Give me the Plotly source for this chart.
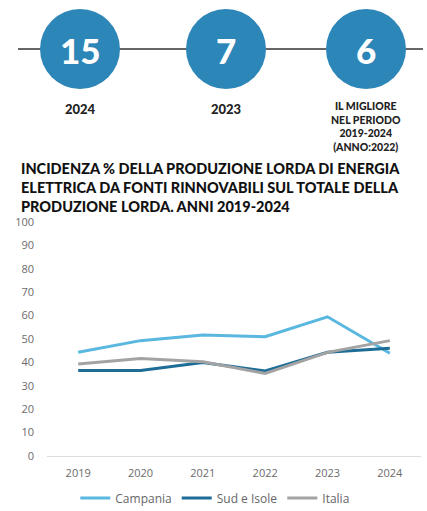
import plotly.graph_objects as go

W, H = 427, 511

anni = ["2019", "2020", "2021", "2022", "2023", "2024"]
campania = [44.3, 49.3, 51.7, 51.0, 59.5, 43.9]
sud_isole = [36.5, 36.5, 39.9, 36.3, 44.3, 46.0]
italia = [39.3, 41.7, 40.3, 35.3, 44.3, 49.3]

header_numeri = ["15", "7", "6"]
header_etichette = ["2024", "2023", "IL MIGLIORE<br>NEL PERIODO<br>2019-2024<br>(ANNO:2022)"]
header_x = [80, 226, 366]

titolo = ("INCIDENZA % DELLA PRODUZIONE LORDA DI ENERGIA<br>"
          "ELETTRICA DA FONTI RINNOVABILI SUL TOTALE DELLA<br>"
          "PRODUZIONE LORDA. ANNI 2019-2024")

# margini dell'area del grafico (in pixel)
L, R, T, B = 47, 6, 222, 55
pw, ph = W - L - R, H - T - B


def px_x(x):
    return (x - L) / pw


def px_y(y):
    return (H - B - y) / ph


fig = go.Figure()
for nome, valori, colore in [
    ("Campania", campania, "#5ab7e0"),
    ("Sud e Isole", sud_isole, "#1d6d97"),
    ("Italia", italia, "#a3a3a3"),
]:
    fig.add_trace(go.Scatter(x=anni, y=valori, name=nome, mode="lines",
                             line=dict(color=colore, width=3)))

shapes = [dict(type="line", xref="paper", yref="paper",
               x0=px_x(18), x1=px_x(423), y0=px_y(49), y1=px_y(49),
               line=dict(color="#333333", width=1.5), layer="below")]
annotations = []
r = 40
for cx, num, lab in zip(header_x, header_numeri, header_etichette):
    shapes.append(dict(type="circle", xref="paper", yref="paper",
                       x0=px_x(cx - r), x1=px_x(cx + r),
                       y0=px_y(49 + r), y1=px_y(49 - r),
                       fillcolor="#2d86b8", line=dict(width=0)))
    annotations.append(dict(text=num, xref="paper", yref="paper",
                            x=px_x(cx), y=px_y(50), showarrow=False,
                            xanchor="center", yanchor="middle",
                            font=dict(family="Lato", size=35, color="white", weight=900)))
    multi = "<br>" in lab
    annotations.append(dict(text=lab, xref="paper", yref="paper",
                            x=px_x(cx), y=px_y(98 if multi else 99), yanchor="top",
                            xanchor="center", showarrow=False, align="center",
                            font=dict(family="Lato", size=10.5 if multi else 13,
                                      color="#222222", weight=900)))

fig.update_layout(
    width=W, height=H,
    margin=dict(l=L, r=R, t=T, b=B, autoexpand=False),
    paper_bgcolor="white", plot_bgcolor="white",
    title=dict(text=titolo, xref="container", yref="container",
               x=21 / W, xanchor="left", y=1 - 174 / H, yanchor="top",
               font=dict(family="Lato", size=14.5, color="#111111", weight=900)),
    xaxis=dict(showgrid=False, showline=True, linecolor="#dddddd", linewidth=1,
               range=[-0.5, 5.5], automargin=False, ticks="", ticklabelstandoff=7,
               tickfont=dict(family="Open Sans", size=11, color="#6b6b6b")),
    yaxis=dict(range=[0, 100], dtick=10, showgrid=False, zeroline=False,
               ticks="", ticklabelstandoff=12, automargin=False,
               tickfont=dict(family="Open Sans", size=11, color="#6b6b6b")),
    legend=dict(orientation="h", x=0.45, xanchor="center", y=px_y(498), yanchor="middle",
                itemwidth=30, tracegroupgap=0,
                font=dict(family="Open Sans", size=12, color="#666666")),
    shapes=shapes,
    annotations=annotations,
    showlegend=True,
)

# la pagina ha un margine di 8px sul body: lo azzero
fig.write_html("out.html", config={"displayModeBar": False},
               post_script="document.body.style.margin='0';")
